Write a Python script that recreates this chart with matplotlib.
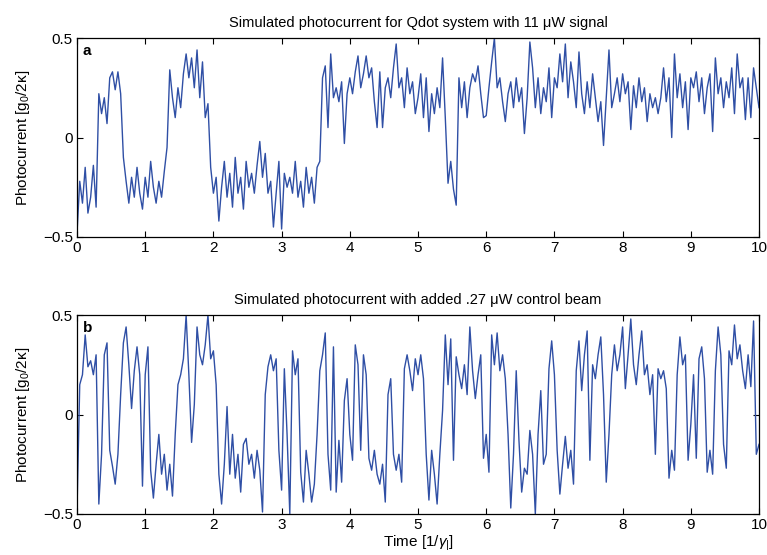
import numpy as np
import matplotlib.pyplot as plt

plt.rcParams['font.family'] = ['Liberation Sans', 'DejaVu Sans']
plt.rcParams['mathtext.fontset'] = 'custom'
plt.rcParams['mathtext.rm'] = 'Liberation Sans'
plt.rcParams['mathtext.it'] = 'Liberation Sans:italic'

# photocurrent, one value every 0.04 time units (rows = 1 time unit)
current_a = [
    -0.48, -0.22, -0.33, -0.15, -0.38, -0.30, -0.14, -0.35, 0.22, 0.12, 0.20, 0.07, 0.30, 0.33, 0.24, 0.33, 0.22, -0.10, -0.22, -0.33, -0.20, -0.30, -0.15, -0.28, -0.36,
    -0.20, -0.30, -0.12, -0.25, -0.33, -0.22, -0.30, -0.17, -0.05, 0.34, 0.20, 0.10, 0.25, 0.15, 0.32, 0.42, 0.30, 0.40, 0.25, 0.44, 0.20, 0.38, 0.10, 0.17, -0.15,
    -0.28, -0.20, -0.42, -0.25, -0.12, -0.30, -0.18, -0.35, -0.10, -0.28, -0.20, -0.36, -0.12, -0.25, -0.18, -0.28, -0.14, -0.02, -0.20, -0.08, -0.28, -0.22, -0.45, -0.28, -0.12,
    -0.46, -0.18, -0.25, -0.20, -0.28, -0.12, -0.30, -0.22, -0.35, -0.15, -0.28, -0.20, -0.33, -0.15, -0.12, 0.30, 0.36, 0.05, 0.42, 0.20, 0.25, 0.18, 0.28, -0.03, 0.22,
    0.30, 0.22, 0.33, 0.41, 0.25, 0.32, 0.41, 0.30, 0.35, 0.18, 0.05, 0.33, 0.05, 0.25, 0.30, 0.20, 0.35, 0.47, 0.25, 0.30, 0.15, 0.35, 0.22, 0.28, 0.12,
    0.20, 0.32, 0.10, 0.30, 0.03, 0.22, 0.12, 0.25, 0.15, 0.40, 0.10, -0.23, -0.12, -0.26, -0.34, 0.30, 0.15, 0.28, 0.10, 0.25, 0.32, 0.28, 0.36, 0.22, 0.10,
    0.11, 0.25, 0.38, 0.50, 0.25, 0.30, 0.18, 0.08, 0.22, 0.28, 0.15, 0.30, 0.18, 0.25, 0.02, 0.20, 0.48, 0.35, 0.15, 0.30, 0.12, 0.25, 0.18, 0.35, 0.10,
    0.30, 0.25, 0.42, 0.28, 0.47, 0.20, 0.38, 0.28, 0.15, 0.43, 0.22, 0.12, 0.28, 0.15, 0.32, 0.20, 0.08, 0.18, -0.04, 0.20, 0.44, 0.15, 0.22, 0.30, 0.18,
    0.32, 0.22, 0.28, 0.04, 0.26, 0.15, 0.30, 0.18, 0.25, 0.08, 0.22, 0.15, 0.20, 0.12, 0.20, 0.35, 0.18, 0.30, 0.00, 0.42, 0.20, 0.32, 0.15, 0.28, 0.04,
    0.30, 0.25, 0.33, 0.18, 0.30, 0.12, 0.25, 0.32, 0.03, 0.40, 0.22, 0.30, 0.15, 0.28, 0.20, 0.35, 0.12, 0.42, 0.25, 0.30, 0.09, 0.30, 0.10, 0.35, 0.25,
    0.15,
]

current_b = [
    -0.48, 0.15, 0.20, 0.40, 0.24, 0.27, 0.20, 0.30, -0.45, -0.20, 0.30, 0.36, -0.18, -0.26, -0.35, -0.20, 0.10, 0.36, 0.44, 0.25, 0.03, 0.22, 0.34, 0.20, -0.36,
    0.20, 0.34, -0.28, -0.42, -0.25, -0.10, -0.30, -0.20, -0.38, -0.25, -0.41, -0.10, 0.15, 0.20, 0.28, 0.50, 0.20, -0.14, 0.05, 0.44, 0.30, 0.25, 0.35, 0.50, 0.28,
    0.32, 0.15, -0.30, -0.45, -0.25, 0.04, -0.30, -0.10, -0.32, -0.20, -0.39, -0.15, -0.12, -0.25, -0.20, -0.32, -0.18, -0.28, -0.49, 0.10, 0.24, 0.30, 0.22, 0.28, -0.18,
    -0.38, 0.23, -0.10, -0.50, 0.32, 0.20, 0.28, -0.29, -0.44, -0.18, -0.30, -0.44, -0.35, -0.10, 0.22, 0.30, 0.41, -0.20, -0.38, 0.34, -0.39, -0.13, -0.34, 0.07, 0.18,
    -0.10, -0.23, 0.35, 0.25, -0.18, 0.30, 0.20, -0.22, -0.28, -0.18, -0.30, -0.35, -0.25, -0.44, 0.10, 0.18, -0.20, -0.28, -0.20, -0.34, 0.23, 0.30, 0.22, 0.12, 0.28,
    0.20, 0.30, 0.18, -0.20, -0.43, -0.18, -0.30, -0.45, -0.20, 0.02, 0.40, 0.15, 0.38, -0.23, 0.29, 0.20, 0.13, 0.25, 0.10, 0.44, 0.22, 0.08, 0.20, 0.30, -0.22,
    -0.10, -0.29, 0.40, 0.25, 0.41, 0.22, 0.30, 0.18, -0.10, -0.47, -0.20, 0.22, -0.13, -0.39, -0.27, -0.30, -0.08, -0.20, -0.50, -0.10, 0.12, -0.25, -0.20, 0.23, 0.37,
    0.20, -0.18, -0.40, -0.25, -0.11, -0.27, -0.18, -0.35, 0.22, 0.37, 0.12, 0.30, 0.42, -0.23, 0.25, 0.18, 0.30, 0.39, 0.10, -0.34, -0.10, 0.20, 0.35, 0.22, 0.30,
    0.44, 0.13, 0.30, 0.48, 0.25, 0.15, 0.30, 0.42, 0.20, 0.25, 0.10, 0.20, -0.20, 0.23, 0.18, 0.22, 0.13, -0.32, -0.18, -0.28, 0.20, 0.39, 0.25, 0.30, -0.23,
    -0.05, 0.20, -0.22, 0.28, 0.34, 0.18, -0.29, -0.18, -0.30, 0.22, 0.44, 0.30, -0.15, -0.27, 0.32, 0.25, 0.45, 0.28, 0.35, 0.22, 0.13, 0.30, 0.14, 0.47, -0.20,
    -0.15,
]

titles = ['Simulated photocurrent for Qdot system with 11 \u03bcW signal',
          'Simulated photocurrent with added .27 \u03bcW control beam']
panel_tags = ['a', 'b']
xticks = list(range(0, 11))
yticks = [-0.5, 0, 0.5]
ytick_labels = ['\u22120.5', '0', '0.5']

line_color = '#2f4fa5'

fig = plt.figure(figsize=(7.67, 5.55), dpi=100)
ax_a = fig.add_axes([0.1004, 0.573, 0.8892, 0.3585])
ax_b = fig.add_axes([0.1004, 0.0739, 0.8892, 0.3585])

for ax, y, title, tag in zip([ax_a, ax_b], [current_a, current_b], titles, panel_tags):
    t = np.linspace(0, 10, len(y))
    ax.plot(t, y, color=line_color, lw=1.0)
    ax.set_xlim(0, 10)
    ax.set_ylim(-0.5, 0.5)
    ax.set_xticks(xticks)
    ax.set_yticks(yticks)
    ax.set_yticklabels(ytick_labels)
    ax.tick_params(direction='in', top=True, right=True, labelsize=11, length=4, pad=3)
    ax.set_title(title, fontsize=10.5, pad=8)
    ax.set_ylabel('Photocurrent [g$_0$/2\u03ba]', fontsize=11, labelpad=8)
    ax.text(0.008, 0.97, tag, transform=ax.transAxes, fontsize=11,
            fontweight='bold', va='top', ha='left')
    for s in ax.spines.values():
        s.set_linewidth(0.9)

ax_b.set_xlabel('Time [1/$\\gamma_{|}$]', fontsize=11, labelpad=1)

fig.savefig('out.png', dpi=100)
